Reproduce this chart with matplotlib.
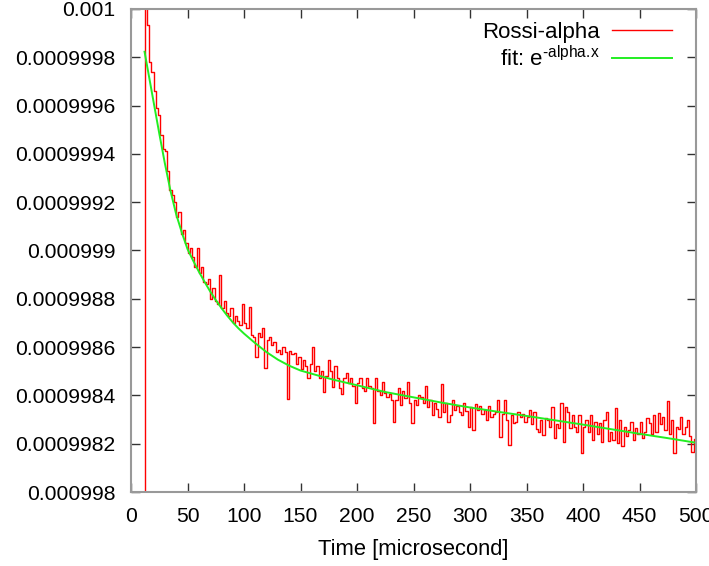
import numpy as np
import matplotlib
matplotlib.use("Agg")
import matplotlib.pyplot as plt
from matplotlib.ticker import FuncFormatter, MultipleLocator

plt.rcParams['font.family'] = ['Liberation Sans', 'DejaVu Sans']
plt.rcParams['mathtext.fontset'] = 'custom'
plt.rcParams['mathtext.rm'] = 'Liberation Sans'

# ---- data -------------------------------------------------------------
base_level = 0.000998          # offsets below are in units of 1e-9 above this
bin_start = 12                 # microseconds
bin_width = 2                  # microseconds
pre_bin_value = 0.0            # empty bin just before the first filled one

rossi_offset = [
    2050, 1935, 1780, 1740, 1660, 1590, 1560, 1480, 1420, 1410,   # 12-30
    1330, 1250, 1230, 1200, 1140, 1160, 1070, 1085, 1030, 990,    # 32-50
    1010, 975, 930, 1010, 905, 930, 870, 860, 880, 800,           # 52-70
    845, 790, 780, 900, 760, 790, 740, 730, 760, 700,             # 72-90
    730, 710, 690, 780, 700, 680, 765, 650, 640, 560,             # 92-110
    660, 640, 680, 513, 630, 642, 610, 620, 580, 590,             # 112-130
    570, 600, 580, 385, 585, 570, 575, 530, 560, 510,             # 132-150
    546, 520, 472, 530, 600, 500, 520, 470, 500, 415,             # 152-170
    480, 546, 500, 436, 520, 470, 430, 405, 470, 491,             # 172-190
    450, 470, 440, 367, 450, 470, 430, 420, 470, 440,             # 192-210
    430, 287, 471, 420, 400, 455, 410, 395, 405, 380,             # 212-230
    291, 380, 430, 360, 420, 390, 457, 370, 284, 380,             # 232-250
    360, 400, 395, 370, 440, 350, 380, 320, 370, 345,             # 252-270
    310, 447, 330, 370, 290, 320, 381, 340, 355, 330,             # 272-290
    320, 370, 335, 270, 350, 257, 365, 340, 355, 325,             # 292-310
    340, 299, 355, 310, 325, 330, 381, 226, 325, 381,             # 312-330
    300, 194, 320, 285, 290, 330, 310, 325, 290, 310,             # 332-350
    340, 280, 330, 262, 248, 298, 236, 305, 300, 270,             # 352-370
    353, 222, 280, 265, 367, 208, 350, 330, 265, 320,             # 372-390
    270, 250, 320, 163, 270, 300, 250, 319, 215, 290,             # 392-410
    240, 285, 208, 300, 333, 210, 250, 215, 346, 201,             # 412-430
    300, 190, 270, 230, 255, 290, 215, 264, 240, 291,             # 432-450
    225, 250, 305, 284, 240, 319, 250, 326, 280, 310,             # 452-470
    255, 378, 240, 300, 160, 270, 260, 310, 240, 270,             # 472-490
    300, 230, 167, 220,                                           # 492-498
]

fit_time = [12, 16, 20, 25, 30, 35, 40, 45, 50, 55, 60, 65, 70, 75, 80, 85,
            90, 95, 100, 110, 120, 130, 140, 150, 165, 180, 200, 225, 250,
            275, 300, 325, 350, 375, 400, 425, 450, 475, 500]
fit_offset = [1823, 1719, 1615, 1485, 1360, 1246, 1150, 1074, 1006, 958, 913,
              871, 831, 795, 762, 731, 703, 678, 656, 616, 579, 548, 523, 503,
              483, 464, 442, 414, 392, 370, 350, 332, 315, 297, 279, 260, 241,
              223, 204]

x_limits = (0, 500)
y_limits = (0.000998, 0.001)
y_ticks = [0.000998, 0.0009982, 0.0009984, 0.0009986, 0.0009988, 0.000999,
           0.0009992, 0.0009994, 0.0009996, 0.0009998, 0.001]

# ---- build series ---------------------------------------------------------
n = len(rossi_offset)
rossi_time = bin_start + bin_width * np.arange(n)
rossi_y = base_level + np.array(rossi_offset) * 1e-9
step_x = np.concatenate([[rossi_time[0] - bin_width], rossi_time,
                         [rossi_time[-1] + bin_width]])
step_y = np.concatenate([[pre_bin_value], rossi_y, [rossi_y[-1]]])
fit_y = base_level + np.array(fit_offset) * 1e-9

# ---- figure ---------------------------------------------------------------
W, H = 709, 566
fig = plt.figure(figsize=(W / 100, H / 100), dpi=100)
ax = fig.add_axes([131 / W, 1 - 492 / H, (696 - 131) / W, (492 - 9) / H])

ax.plot(step_x, step_y, drawstyle='steps-post', color='#ff0000', lw=1.0,
        label='Rossi-alpha')
ax.plot(fit_time, fit_y, color='#22ee22', lw=1.4,
        label='fit: e$^{\\mathregular{\u2010alpha.\\!x}}$')

ax.set_xlim(*x_limits)
ax.set_ylim(*y_limits)
ax.xaxis.set_major_locator(MultipleLocator(50))
ax.set_yticks(y_ticks)


def yfmt(v, pos):
    s = '%.7f' % v
    return s.rstrip('0')


ax.yaxis.set_major_formatter(FuncFormatter(yfmt))

for sp in ax.spines.values():
    sp.set_color('#999999')
    sp.set_linewidth(1.5)

ax.tick_params(direction='in', length=6.5, width=1.0, color='#333333',
               top=True, right=True, labelsize=15.2, labelcolor='black')
ax.tick_params(axis='x', pad=11)
ax.tick_params(axis='y', pad=11)

ax.set_xlabel('Time [microsecond]', fontsize=15.8, labelpad=9)

leg = ax.legend(loc='upper right', bbox_to_anchor=(672 / W, 1 - 22 / H),
                bbox_transform=fig.transFigure, frameon=False,
                markerfirst=False, fontsize=16, handlelength=2.7,
                handletextpad=0.55, borderpad=0, borderaxespad=0,
                labelspacing=0.12)

fig.savefig('out.png', dpi=100)
